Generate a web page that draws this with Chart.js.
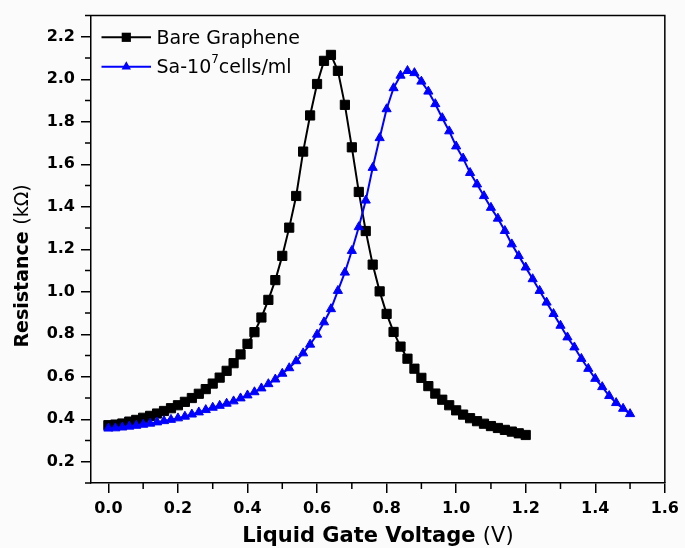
<!DOCTYPE html>
<html>
<head>
<meta charset="utf-8">
<script src="https://cdn.jsdelivr.net/npm/chart.js@4.4.0/dist/chart.umd.min.js"></script>
<style>
html,body{margin:0;padding:0;background:#fbfbfb;}
#wrap{width:685px;height:548px;position:relative;}
</style>
</head>
<body>
<div id="wrap"><canvas id="c"></canvas></div>
<script>
// Gate voltage (V)
const voltage = [
  0.00,0.02,0.04,0.06,0.08,0.10,0.12,0.14,0.16,0.18,
  0.20,0.22,0.24,0.26,0.28,0.30,0.32,0.34,0.36,0.38,
  0.40,0.42,0.44,0.46,0.48,0.50,0.52,0.54,0.56,0.58,
  0.60,0.62,0.64,0.66,0.68,0.70,0.72,0.74,0.76,0.78,
  0.80,0.82,0.84,0.86,0.88,0.90,0.92,0.94,0.96,0.98,
  1.00,1.02,1.04,1.06,1.08,1.10,1.12,1.14,1.16,1.18,
  1.20,1.22,1.24,1.26,1.28,1.30,1.32,1.34,1.36,1.38,
  1.40,1.42,1.44,1.46,1.48,1.50
];
// Resistance (kOhm), Bare Graphene, 0.00 .. 1.20 V
const bareGraphene = [
  0.372,0.375,0.380,0.389,0.397,0.407,0.416,0.427,0.439,0.452,
  0.466,0.482,0.500,0.520,0.542,0.568,0.596,0.628,0.664,0.705,
  0.755,0.810,0.879,0.962,1.055,1.169,1.302,1.451,1.660,1.830,
  1.978,2.087,2.115,2.040,1.880,1.680,1.470,1.286,1.128,1.002,
  0.896,0.811,0.742,0.685,0.638,0.595,0.556,0.521,0.492,0.466,
  0.442,0.422,0.405,0.391,0.379,0.368,0.359,0.350,0.342,0.334,
  0.326
];
// Resistance (kOhm), Sa-10^7 cells/ml, 0.00 .. 1.50 V
const saCells = [
  0.357,0.358,0.362,0.366,0.370,0.375,0.380,0.386,0.392,0.398,
  0.405,0.413,0.423,0.433,0.444,0.455,0.464,0.474,0.485,0.499,
  0.513,0.528,0.546,0.566,0.588,0.615,0.641,0.674,0.711,0.752,
  0.799,0.857,0.919,1.005,1.091,1.193,1.305,1.430,1.584,1.724,
  1.860,1.959,2.018,2.040,2.030,1.990,1.943,1.884,1.818,1.756,
  1.685,1.628,1.560,1.506,1.451,1.396,1.345,1.287,1.224,1.169,
  1.115,1.060,1.005,0.950,0.896,0.841,0.786,0.739,0.685,0.638,
  0.591,0.552,0.510,0.477,0.450,0.425
];
const seriesLabels = ['Bare Graphene', 'Sa-10\u2077cells/ml'];
const legendParts = [
  [['Bare Graphene', false]],
  [['Sa-10', false], ['7', true], ['cells/ml', false]]
];
const xTickValues = [0.0,0.2,0.4,0.6,0.8,1.0,1.2,1.4,1.6];
const yTickValues = [0.2,0.4,0.6,0.8,1.0,1.2,1.4,1.6,1.8,2.0,2.2];
const xMinorTicks = [0.1,0.3,0.5,0.7,0.9,1.1,1.3,1.5];
const yMinorTicks = [0.1,0.3,0.5,0.7,0.9,1.1,1.3,1.5,1.7,1.9,2.1,2.3];
const xTitleParts = ['Liquid Gate Voltage ', '(V)'];
const yTitleParts = ['Resistance ', '(k\u03A9)'];

const FONT = '"DejaVu Sans", sans-serif';
const colors = ['#000000', '#0000ff'];

const decorPlugin = {
  id: 'decor',
  afterDraw(chart) {
    const c = chart.ctx;
    const a = chart.chartArea;
    const xs = chart.scales.x, ys = chart.scales.y;
    c.save();
    // frame top/right
    c.strokeStyle = '#000';
    c.lineWidth = 1.5;
    c.beginPath();
    c.moveTo(a.left, a.top); c.lineTo(a.right, a.top); c.lineTo(a.right, a.bottom);
    c.stroke();
    // minor ticks
    c.lineWidth = 1.5;
    c.beginPath();
    xMinorTicks.forEach(v => {
      const px = xs.getPixelForValue(v);
      c.moveTo(px, a.bottom); c.lineTo(px, a.bottom + 6);
    });
    yMinorTicks.forEach(v => {
      const py = ys.getPixelForValue(v);
      c.moveTo(a.left - 6, py); c.lineTo(a.left, py);
    });
    c.stroke();
    // axis titles
    c.fillStyle = '#000';
    c.textBaseline = 'alphabetic';
    c.textAlign = 'left';
    const bold = s => 'bold ' + s + 'px ' + FONT;
    const reg = s => s + 'px ' + FONT;
    // x title
    c.font = bold(21); const w1 = c.measureText(xTitleParts[0]).width;
    c.font = reg(21); const w2 = c.measureText(xTitleParts[1]).width;
    const xc = (a.left + a.right) / 2;
    let sx = xc - (w1 + w2) / 2;
    c.font = bold(21); c.fillText(xTitleParts[0], sx, 541.5);
    c.font = reg(21); c.fillText(xTitleParts[1], sx + w1, 541.5);
    // y title
    c.save();
    c.translate(28, 266);
    c.rotate(-Math.PI / 2);
    c.font = bold(19); const v1 = c.measureText(yTitleParts[0]).width;
    c.font = reg(19); const v2 = c.measureText(yTitleParts[1]).width;
    let sy = -(v1 + v2) / 2;
    c.font = bold(19); c.fillText(yTitleParts[0], sy, 0);
    c.font = reg(19); c.fillText(yTitleParts[1], sy + v1, 0);
    c.restore();
    // legend
    const rows = [37.3, 66.7];
    legendParts.forEach((parts, i) => {
      const cy = rows[i];
      c.strokeStyle = colors[i];
      c.fillStyle = colors[i];
      c.lineWidth = 2;
      c.beginPath(); c.moveTo(101.5, cy); c.lineTo(151, cy); c.stroke();
      const mx = 126.3;
      c.beginPath();
      if (i === 0) {
        c.rect(mx - 4.6, cy - 4.6, 9.2, 9.2);
      } else {
        c.moveTo(mx, cy - 5.4); c.lineTo(mx + 4.7, cy + 2.7); c.lineTo(mx - 4.7, cy + 2.7); c.closePath();
      }
      c.fill();
      c.fillStyle = '#000';
      let tx = 156.5;
      const base = cy + 6.6;
      parts.forEach(([t, sup]) => {
        c.font = sup ? reg(12) : reg(19);
        c.fillText(t, tx, sup ? base - 10 : base);
        tx += c.measureText(t).width;
      });
    });
    c.restore();
  }
};

const toPoints = (ys) => ys.map((y, i) => ({x: voltage[i], y: y}));

new Chart(document.getElementById('c'), {
  type: 'line',
  data: {
    datasets: [
      {
        label: seriesLabels[0],
        data: toPoints(bareGraphene),
        borderColor: colors[0], backgroundColor: colors[0],
        borderWidth: 2, tension: 0, fill: false,
        pointStyle: 'rect', pointRadius: 6.5, pointBorderWidth: 1,
        pointBackgroundColor: colors[0], pointBorderColor: colors[0],
        order: 1
      },
      {
        label: seriesLabels[1],
        data: toPoints(saCells),
        borderColor: colors[1], backgroundColor: colors[1],
        borderWidth: 2, tension: 0, fill: false,
        pointStyle: 'triangle', pointRadius: 5.3, pointBorderWidth: 1,
        pointBackgroundColor: colors[1], pointBorderColor: colors[1],
        order: 0
      }
    ]
  },
  options: {
    responsive: true,
    maintainAspectRatio: false,
    animation: false,
    events: [],
    layout: { padding: { left: 0, top: 14, right: 17, bottom: 0 } },
    plugins: { legend: { display: false }, tooltip: { enabled: false } },
    scales: {
      x: {
        type: 'linear', min: -0.05, max: 1.6,
        afterBuildTicks: s => { s.ticks = xTickValues.map(v => ({ value: v })); },
        afterFit: s => { s.height = 65; },
        grid: { drawOnChartArea: false, drawTicks: true, tickLength: 10, color: '#000', lineWidth: 1.5 },
        border: { display: true, color: '#000', width: 1.5 },
        ticks: {
          color: '#000', padding: 6, maxRotation: 0, autoSkip: false,
          font: { family: FONT, size: 16, weight: 'bold' },
          callback: v => Number(v).toFixed(1)
        }
      },
      y: {
        type: 'linear', min: 0.1, max: 2.3,
        afterBuildTicks: s => { s.ticks = yTickValues.map(v => ({ value: v })); },
        afterFit: s => { s.width = 91; },
        grid: { drawOnChartArea: false, drawTicks: true, tickLength: 10, color: '#000', lineWidth: 1.5 },
        border: { display: true, color: '#000', width: 1.5 },
        ticks: {
          color: '#000', padding: 6, autoSkip: false,
          font: { family: FONT, size: 16, weight: 'bold' },
          callback: v => Number(v).toFixed(1)
        }
      }
    }
  },
  plugins: [decorPlugin]
});
</script>
</body>
</html>
